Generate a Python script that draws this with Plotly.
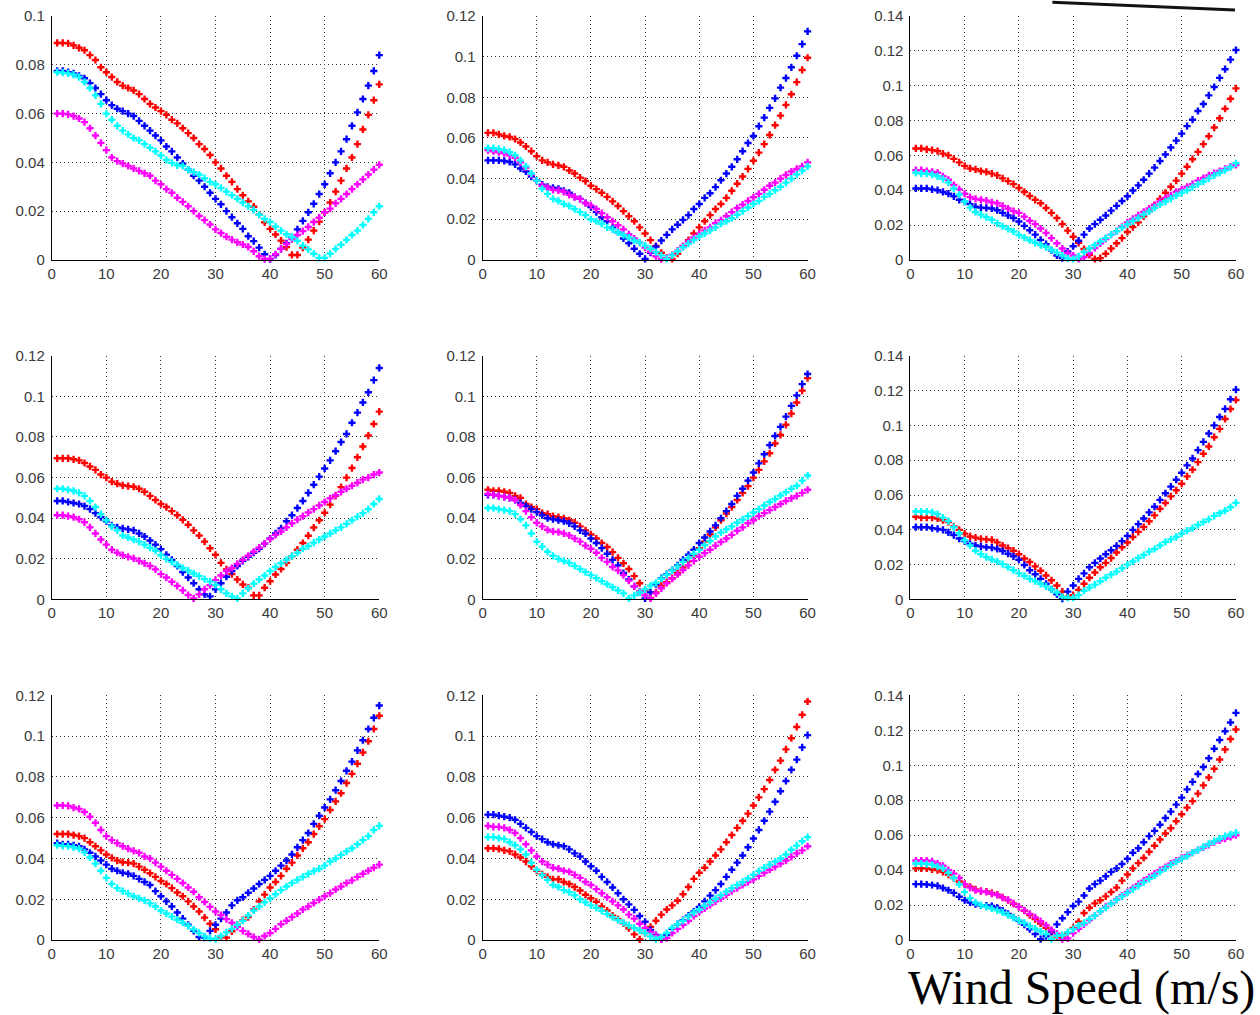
import plotly.graph_objects as go

# Wind speed samples (m/s) shared by every panel
wind = list(range(1, 61))

# Y-axis limits and tick labels per panel (row-major, 3x3)
y_max = [0.1, 0.12, 0.14, 0.12, 0.12, 0.14, 0.12, 0.12, 0.14]
x_ticks = [0, 10, 20, 30, 40, 50, 60]
x_tick_text = ["0", "10", "20", "30", "40", "50", "60"]
y_ticks_01 = [0, 0.02, 0.04, 0.06, 0.08, 0.1]
y_text_01 = ["0", "0.02", "0.04", "0.06", "0.08", "0.1"]
y_ticks_012 = [0, 0.02, 0.04, 0.06, 0.08, 0.1, 0.12]
y_text_012 = ["0", "0.02", "0.04", "0.06", "0.08", "0.1", "0.12"]
y_ticks_014 = [0, 0.02, 0.04, 0.06, 0.08, 0.1, 0.12, 0.14]
y_text_014 = ["0", "0.02", "0.04", "0.06", "0.08", "0.1", "0.12", "0.14"]

# ---- Panel 1 ----
p1_red = [0.089, 0.089, 0.0888, 0.088, 0.087, 0.086, 0.084, 0.082, 0.079, 0.077,
          0.075, 0.073, 0.0715, 0.0705, 0.0695, 0.068, 0.066, 0.064, 0.0625, 0.061,
          0.0595, 0.0575, 0.056, 0.054, 0.052, 0.050, 0.0475, 0.0455, 0.043, 0.040,
          0.0375, 0.0345, 0.032, 0.029, 0.0265, 0.024, 0.0218, 0.0185, 0.0154, 0.0127,
          0.0104, 0.0079, 0.0052, 0.002, 0.002, 0.005, 0.0083, 0.012, 0.0157, 0.0195,
          0.0235, 0.028, 0.0325, 0.0375, 0.042, 0.0475, 0.0535, 0.0595, 0.0655, 0.072]
p1_blue = [0.0775, 0.0775, 0.077, 0.0765, 0.0755, 0.0745, 0.0725, 0.0705, 0.068, 0.0655,
           0.0635, 0.062, 0.061, 0.060, 0.059, 0.057, 0.055, 0.053, 0.051, 0.049,
           0.0465, 0.0445, 0.042, 0.0395, 0.037, 0.0345, 0.0325, 0.030, 0.0275, 0.025,
           0.0228, 0.020, 0.0175, 0.015, 0.0127, 0.0097, 0.0077, 0.005, 0.0023, 0.0003,
           0.002, 0.0045, 0.0068, 0.0093, 0.0125, 0.016, 0.0195, 0.023, 0.027, 0.031,
           0.0355, 0.040, 0.0445, 0.0495, 0.055, 0.0605, 0.066, 0.0715, 0.0775, 0.084]
p1_magenta = [0.060, 0.060, 0.0597, 0.059, 0.058, 0.0565, 0.054, 0.051, 0.048, 0.045,
              0.042, 0.0405, 0.0395, 0.0385, 0.0375, 0.0365, 0.0355, 0.0345, 0.0325, 0.031,
              0.029, 0.0275, 0.0255, 0.0238, 0.022, 0.020, 0.018, 0.0163, 0.0145, 0.0125,
              0.011, 0.0095, 0.0083, 0.0072, 0.0063, 0.0053, 0.0035, 0.0015, 0.0003, 0.0005,
              0.0023, 0.0045, 0.0065, 0.0085, 0.0102, 0.0118, 0.0135, 0.0155, 0.0173, 0.0195,
              0.021, 0.0232, 0.025, 0.027, 0.029, 0.031, 0.033, 0.035, 0.037, 0.039]
p1_cyan = [0.077, 0.0768, 0.0765, 0.076, 0.075, 0.073, 0.0705, 0.0675, 0.064, 0.060,
           0.0575, 0.055, 0.053, 0.0515, 0.050, 0.049, 0.0475, 0.046, 0.0445, 0.0428,
           0.041, 0.0398, 0.0388, 0.0385, 0.037, 0.036, 0.035, 0.0335, 0.032, 0.031,
           0.0295, 0.028, 0.0265, 0.025, 0.0235, 0.022, 0.0205, 0.0185, 0.0168, 0.0155,
           0.0137, 0.012, 0.0105, 0.0093, 0.0078, 0.0058, 0.0043, 0.0025, 0.0008, 0.0008,
           0.0025, 0.0045, 0.0062, 0.0082, 0.0102, 0.012, 0.0143, 0.0168, 0.0195, 0.022]

# ---- Panel 2 ----
p2_red = [0.0625, 0.0625, 0.0618, 0.061, 0.0605, 0.0595, 0.0578, 0.0558, 0.0535, 0.051,
          0.049, 0.048, 0.047, 0.0465, 0.0458, 0.044, 0.0425, 0.0405, 0.0388, 0.0365,
          0.0348, 0.033, 0.031, 0.0288, 0.0265, 0.024, 0.0215, 0.019, 0.016, 0.013,
          0.0097, 0.0068, 0.0035, 0.0008, 0.0005, 0.003, 0.0065, 0.0097, 0.013, 0.016,
          0.019, 0.022, 0.025, 0.0275, 0.0305, 0.034, 0.0375, 0.041, 0.0448, 0.0488,
          0.0528, 0.057, 0.0615, 0.0663, 0.071, 0.0763, 0.0815, 0.0875, 0.0935, 0.0995]
p2_blue = [0.049, 0.049, 0.049, 0.0487, 0.0482, 0.047, 0.045, 0.0435, 0.041, 0.039,
           0.037, 0.036, 0.0355, 0.035, 0.034, 0.033, 0.031, 0.030, 0.028, 0.026,
           0.0235, 0.021, 0.019, 0.016, 0.0135, 0.0105, 0.0082, 0.0055, 0.003, 0.0005,
           0.0035, 0.0065, 0.0095, 0.0123, 0.015, 0.0173, 0.0197, 0.022, 0.025, 0.0275,
           0.0305, 0.0328, 0.0358, 0.0392, 0.0425, 0.0458, 0.0495, 0.0535, 0.0575, 0.061,
           0.0658, 0.070, 0.0748, 0.0795, 0.0848, 0.0895, 0.0948, 0.1005, 0.1062, 0.1125]
p2_magenta = [0.054, 0.0535, 0.053, 0.0525, 0.0515, 0.0503, 0.048, 0.0455, 0.042, 0.039,
              0.0365, 0.0355, 0.0345, 0.0342, 0.0335, 0.032, 0.031, 0.030, 0.028, 0.0268,
              0.025, 0.023, 0.021, 0.019, 0.017, 0.015, 0.0125, 0.0105, 0.0085, 0.006,
              0.004, 0.0018, 0.0003, 0.0008, 0.0025, 0.0045, 0.0068, 0.009, 0.011, 0.0128,
              0.0145, 0.016, 0.018, 0.0195, 0.0215, 0.0235, 0.0255, 0.0272, 0.029, 0.0308,
              0.0325, 0.0345, 0.0365, 0.038, 0.040, 0.0418, 0.0435, 0.0448, 0.046, 0.048]
p2_cyan = [0.055, 0.055, 0.0545, 0.054, 0.053, 0.0515, 0.049, 0.046, 0.0425, 0.039,
           0.035, 0.0325, 0.030, 0.029, 0.0275, 0.0265, 0.025, 0.0235, 0.022, 0.020,
           0.019, 0.0178, 0.016, 0.015, 0.0135, 0.0122, 0.011, 0.0095, 0.0085, 0.007,
           0.0055, 0.0038, 0.0022, 0.0005, 0.0022, 0.0042, 0.0062, 0.008, 0.0098, 0.0115,
           0.013, 0.0145, 0.016, 0.0178, 0.019, 0.0205, 0.0222, 0.024, 0.0258, 0.0275,
           0.029, 0.031, 0.0325, 0.0343, 0.036, 0.038, 0.040, 0.042, 0.044, 0.046]

# ---- Panel 3 ----
p3_red = [0.064, 0.064, 0.0635, 0.063, 0.0625, 0.061, 0.060, 0.058, 0.056, 0.054,
          0.0525, 0.052, 0.051, 0.0505, 0.0495, 0.0485, 0.0468, 0.0452, 0.0435, 0.0413,
          0.039, 0.0367, 0.0345, 0.0325, 0.0298, 0.027, 0.024, 0.0205, 0.0168, 0.0133,
          0.0098, 0.0062, 0.0028, 0.0005, 0.001, 0.0035, 0.0065, 0.0095, 0.0125, 0.016,
          0.0188, 0.0215, 0.025, 0.028, 0.0315, 0.035, 0.0385, 0.042, 0.0455, 0.0495,
          0.0535, 0.0578, 0.062, 0.0665, 0.071, 0.076, 0.0813, 0.0868, 0.0925, 0.0985]
p3_blue = [0.041, 0.041, 0.041, 0.0405, 0.040, 0.039, 0.038, 0.0365, 0.0345, 0.0335,
           0.032, 0.0305, 0.030, 0.0298, 0.0295, 0.0285, 0.027, 0.0255, 0.024, 0.022,
           0.0195, 0.017, 0.0145, 0.0115, 0.009, 0.0055, 0.0025, 0.001, 0.0048, 0.0078,
           0.011, 0.0145, 0.018, 0.0205, 0.023, 0.0255, 0.0283, 0.031, 0.0338, 0.0365,
           0.0398, 0.0428, 0.046, 0.0495, 0.053, 0.0568, 0.0605, 0.0645, 0.0685, 0.0725,
           0.0768, 0.0805, 0.0855, 0.0895, 0.0945, 0.0993, 0.1045, 0.1095, 0.115, 0.1205]
p3_magenta = [0.0515, 0.0515, 0.051, 0.0505, 0.050, 0.048, 0.046, 0.043, 0.0405, 0.038,
              0.036, 0.035, 0.0345, 0.034, 0.033, 0.0325, 0.031, 0.0295, 0.028, 0.027,
              0.0248, 0.0225, 0.0205, 0.018, 0.0155, 0.0125, 0.0095, 0.0065, 0.004, 0.0025,
              0.0005, 0.0015, 0.004, 0.0068, 0.0095, 0.012, 0.0145, 0.0165, 0.019, 0.0215,
              0.0235, 0.0255, 0.0275, 0.0295, 0.0315, 0.0335, 0.0355, 0.037, 0.039, 0.0405,
              0.042, 0.0435, 0.0455, 0.047, 0.0485, 0.0498, 0.051, 0.0522, 0.0535, 0.0545]
p3_cyan = [0.050, 0.0495, 0.0495, 0.049, 0.048, 0.0465, 0.0445, 0.041, 0.0375, 0.0335,
           0.030, 0.0275, 0.026, 0.0245, 0.023, 0.021, 0.0193, 0.0178, 0.0163, 0.0143,
           0.0128, 0.0113, 0.0098, 0.0085, 0.0073, 0.0058, 0.0043, 0.0025, 0.0008, 0.0005,
           0.002, 0.0045, 0.0065, 0.0085, 0.0105, 0.0125, 0.0145, 0.0165, 0.0185, 0.0205,
           0.0223, 0.024, 0.026, 0.0278, 0.0298, 0.0318, 0.0335, 0.0352, 0.037, 0.0385,
           0.040, 0.0418, 0.0435, 0.045, 0.0468, 0.0485, 0.050, 0.0515, 0.0532, 0.0555]

# ---- Panel 4 ----
p4_red = [0.0695, 0.0695, 0.0695, 0.069, 0.0685, 0.0672, 0.0655, 0.0638, 0.0615, 0.060,
          0.058, 0.057, 0.0562, 0.0558, 0.0555, 0.0545, 0.053, 0.051, 0.049, 0.047,
          0.0455, 0.0435, 0.0415, 0.0392, 0.0368, 0.034, 0.0315, 0.0285, 0.0252, 0.022,
          0.018, 0.0148, 0.0125, 0.0098, 0.0074, 0.0058, 0.002, 0.002, 0.0058, 0.009,
          0.0123, 0.015, 0.018, 0.0213, 0.0245, 0.0278, 0.0314, 0.0354, 0.039, 0.0427,
          0.0467, 0.051, 0.0553, 0.060, 0.0647, 0.070, 0.0753, 0.0807, 0.0864, 0.0925]
p4_blue = [0.0485, 0.0485, 0.048, 0.0475, 0.047, 0.046, 0.0445, 0.0425, 0.0405, 0.0385,
           0.0365, 0.0355, 0.035, 0.0345, 0.034, 0.0325, 0.031, 0.029, 0.027, 0.0248,
           0.022, 0.0195, 0.0165, 0.0135, 0.0108, 0.008, 0.005, 0.0025, 0.0015, 0.005,
           0.008, 0.0112, 0.014, 0.0165, 0.019, 0.021, 0.023, 0.025, 0.0275, 0.030,
           0.0325, 0.035, 0.0385, 0.0415, 0.045, 0.0485, 0.0525, 0.0565, 0.0605, 0.0645,
           0.0685, 0.073, 0.0775, 0.0815, 0.087, 0.092, 0.097, 0.102, 0.108, 0.114]
p4_magenta = [0.0415, 0.0415, 0.041, 0.0405, 0.0395, 0.038, 0.0355, 0.0325, 0.0295, 0.027,
              0.0245, 0.023, 0.0218, 0.021, 0.0202, 0.019, 0.0178, 0.0165, 0.0148, 0.0125,
              0.0108, 0.0087, 0.0067, 0.0045, 0.0022, 0.0005, 0.0025, 0.005, 0.007, 0.0095,
              0.0118, 0.014, 0.0155, 0.0175, 0.0195, 0.0215, 0.0235, 0.0255, 0.0275, 0.0298,
              0.0318, 0.0335, 0.0355, 0.0375, 0.0393, 0.041, 0.0428, 0.0445, 0.0463, 0.048,
              0.0498, 0.0513, 0.053, 0.0545, 0.056, 0.0575, 0.059, 0.060, 0.0615, 0.0625]
p4_cyan = [0.0545, 0.0545, 0.054, 0.0535, 0.0525, 0.051, 0.0485, 0.0455, 0.042, 0.039,
           0.036, 0.034, 0.0315, 0.0305, 0.0295, 0.0285, 0.027, 0.0255, 0.024, 0.0218,
           0.020, 0.0185, 0.017, 0.0155, 0.0142, 0.0128, 0.0115, 0.010, 0.0088, 0.0072,
           0.005, 0.003, 0.0015, 0.0005, 0.003, 0.0055, 0.0078, 0.0098, 0.0118, 0.014,
           0.016, 0.0178, 0.0195, 0.0213, 0.023, 0.025, 0.0263, 0.028, 0.0295, 0.031,
           0.0325, 0.034, 0.0355, 0.0372, 0.039, 0.0408, 0.0425, 0.0445, 0.047, 0.0495]

# ---- Panel 5 ----
p5_red = [0.054, 0.0535, 0.0535, 0.053, 0.0525, 0.051, 0.050, 0.047, 0.0455, 0.0445,
          0.0425, 0.042, 0.041, 0.0405, 0.040, 0.039, 0.0378, 0.036, 0.034, 0.032,
          0.030, 0.0278, 0.0258, 0.0233, 0.0205, 0.0178, 0.015, 0.0115, 0.008, 0.0045,
          0.0008, 0.0035, 0.0068, 0.0085, 0.0105, 0.013, 0.0158, 0.0188, 0.0218, 0.0253,
          0.0285, 0.032, 0.0355, 0.039, 0.0423, 0.0455, 0.049, 0.0525, 0.0558, 0.060,
          0.0638, 0.068, 0.072, 0.0768, 0.081, 0.086, 0.0915, 0.097, 0.1028, 0.109]
p5_blue = [0.0515, 0.0515, 0.051, 0.0505, 0.050, 0.049, 0.0475, 0.046, 0.0445, 0.043,
           0.0415, 0.040, 0.0395, 0.039, 0.0385, 0.0375, 0.036, 0.034, 0.0325, 0.030,
           0.0278, 0.0253, 0.0225, 0.0195, 0.0168, 0.013, 0.0098, 0.0065, 0.0035, 0.0005,
           0.0035, 0.0075, 0.0105, 0.0125, 0.0145, 0.0168, 0.0195, 0.022, 0.0245, 0.0278,
           0.0305, 0.0335, 0.0365, 0.040, 0.0435, 0.047, 0.051, 0.0545, 0.0585, 0.0625,
           0.067, 0.0715, 0.076, 0.0805, 0.085, 0.090, 0.0953, 0.1005, 0.106, 0.111]
p5_magenta = [0.052, 0.0515, 0.051, 0.0505, 0.050, 0.049, 0.0465, 0.0435, 0.0405, 0.0378,
              0.036, 0.0343, 0.0335, 0.0332, 0.0325, 0.0315, 0.030, 0.0285, 0.0265, 0.025,
              0.023, 0.0205, 0.0185, 0.016, 0.0143, 0.012, 0.0093, 0.0065, 0.004, 0.002,
              0.0005, 0.003, 0.0055, 0.008, 0.0102, 0.0123, 0.0145, 0.0168, 0.019, 0.021,
              0.0228, 0.0245, 0.0265, 0.0283, 0.030, 0.0318, 0.0338, 0.0355, 0.0375, 0.039,
              0.041, 0.0425, 0.044, 0.0455, 0.047, 0.0485, 0.0498, 0.051, 0.0525, 0.054]
p5_cyan = [0.045, 0.045, 0.0445, 0.044, 0.0435, 0.042, 0.0395, 0.0365, 0.0325, 0.0285,
           0.026, 0.0235, 0.0215, 0.020, 0.019, 0.018, 0.0165, 0.015, 0.0135, 0.012,
           0.0105, 0.009, 0.0075, 0.006, 0.0045, 0.003, 0.0005, 0.002, 0.0035, 0.005,
           0.0068, 0.0082, 0.0102, 0.0122, 0.0143, 0.0163, 0.0185, 0.0205, 0.0225, 0.0245,
           0.0268, 0.0288, 0.031, 0.033, 0.0345, 0.036, 0.0378, 0.0393, 0.041, 0.0428,
           0.0445, 0.0463, 0.048, 0.0495, 0.0512, 0.0528, 0.0545, 0.056, 0.0585, 0.061]

# ---- Panel 6 (three series) ----
p6_red = [0.0475, 0.047, 0.047, 0.047, 0.0465, 0.0455, 0.0445, 0.042, 0.040, 0.0378,
          0.0362, 0.0355, 0.0348, 0.0345, 0.0342, 0.0328, 0.031, 0.0295, 0.028, 0.026,
          0.0235, 0.0215, 0.019, 0.0165, 0.0138, 0.011, 0.008, 0.0045, 0.0015, 0.0025,
          0.0055, 0.009, 0.0125, 0.0155, 0.0185, 0.021, 0.0238, 0.027, 0.030, 0.0327,
          0.0359, 0.0388, 0.0416, 0.0449, 0.0483, 0.0521, 0.0554, 0.0592, 0.0627, 0.0665,
          0.0707, 0.0745, 0.0789, 0.0837, 0.0879, 0.0932, 0.098, 0.1037, 0.1094, 0.1146]
p6_blue = [0.0415, 0.0415, 0.0415, 0.041, 0.0405, 0.040, 0.0385, 0.037, 0.035, 0.0335,
           0.032, 0.031, 0.0305, 0.030, 0.0298, 0.029, 0.0278, 0.0263, 0.0248, 0.0228,
           0.0198, 0.0168, 0.0145, 0.0118, 0.009, 0.0058, 0.003, 0.0005, 0.0045, 0.008,
           0.0118, 0.015, 0.0185, 0.021, 0.0235, 0.026, 0.0283, 0.0308, 0.0335, 0.0365,
           0.040, 0.0433, 0.0465, 0.050, 0.0533, 0.0572, 0.061, 0.0648, 0.0688, 0.0728,
           0.077, 0.081, 0.0858, 0.0905, 0.0953, 0.100, 0.1048, 0.1095, 0.115, 0.1205]
p6_cyan = [0.0505, 0.0505, 0.0505, 0.050, 0.049, 0.047, 0.045, 0.0415, 0.038, 0.034,
           0.031, 0.028, 0.026, 0.0243, 0.023, 0.0218, 0.0203, 0.0185, 0.0168, 0.015,
           0.0135, 0.0118, 0.0105, 0.009, 0.0075, 0.0058, 0.004, 0.0015, 0.001, 0.001,
           0.0025, 0.005, 0.0068, 0.0085, 0.0105, 0.0125, 0.0143, 0.016, 0.018, 0.020,
           0.0218, 0.0238, 0.0255, 0.0275, 0.029, 0.031, 0.033, 0.0345, 0.036, 0.0378,
           0.0395, 0.041, 0.0428, 0.0445, 0.046, 0.048, 0.0495, 0.051, 0.053, 0.0555]

# ---- Panel 7 ----
p7_red = [0.052, 0.052, 0.052, 0.0515, 0.051, 0.050, 0.048, 0.046, 0.044, 0.042,
          0.0403, 0.039, 0.0382, 0.038, 0.0375, 0.036, 0.0345, 0.0328, 0.031, 0.029,
          0.0275, 0.0255, 0.0233, 0.0215, 0.019, 0.0165, 0.014, 0.011, 0.008, 0.0053,
          0.0015, 0.0012, 0.0043, 0.0075, 0.0098, 0.0113, 0.015, 0.019, 0.0223, 0.0258,
          0.0285, 0.0315, 0.035, 0.038, 0.0415, 0.045, 0.048, 0.052, 0.0558, 0.0593,
          0.0638, 0.068, 0.072, 0.077, 0.0815, 0.0865, 0.092, 0.0975, 0.1035, 0.110]
p7_blue = [0.0475, 0.047, 0.047, 0.0465, 0.046, 0.0445, 0.0428, 0.041, 0.039, 0.037,
           0.035, 0.034, 0.033, 0.0325, 0.0315, 0.030, 0.0285, 0.027, 0.024, 0.0215,
           0.019, 0.0165, 0.0135, 0.0105, 0.0075, 0.0045, 0.0015, 0.0012, 0.0045, 0.0075,
           0.0105, 0.0135, 0.017, 0.0195, 0.021, 0.0232, 0.0253, 0.0275, 0.0295, 0.0315,
           0.034, 0.0365, 0.039, 0.042, 0.0455, 0.049, 0.0525, 0.057, 0.061, 0.065,
           0.069, 0.0735, 0.078, 0.083, 0.0875, 0.093, 0.098, 0.1035, 0.109, 0.115]
p7_magenta = [0.066, 0.066, 0.0658, 0.065, 0.0643, 0.0628, 0.0605, 0.0575, 0.054, 0.051,
              0.049, 0.0475, 0.046, 0.0448, 0.0437, 0.0428, 0.041, 0.040, 0.038, 0.036,
              0.034, 0.032, 0.030, 0.028, 0.0258, 0.0237, 0.021, 0.0187, 0.0163, 0.014,
              0.0123, 0.0103, 0.0085, 0.0065, 0.0045, 0.003, 0.0015, 0.0003, 0.002, 0.0035,
              0.0055, 0.0078, 0.0095, 0.0113, 0.013, 0.015, 0.0165, 0.0182, 0.0198, 0.0215,
              0.023, 0.0248, 0.0263, 0.028, 0.0293, 0.031, 0.0325, 0.034, 0.0355, 0.037]
p7_cyan = [0.0465, 0.0462, 0.046, 0.0455, 0.0448, 0.043, 0.0405, 0.0375, 0.034, 0.0305,
           0.0275, 0.0255, 0.024, 0.0228, 0.0215, 0.0205, 0.0195, 0.018, 0.0165, 0.0145,
           0.013, 0.0115, 0.010, 0.0085, 0.007, 0.0052, 0.0035, 0.0018, 0.0008, 0.0005,
           0.002, 0.0038, 0.0055, 0.0075, 0.0095, 0.012, 0.0145, 0.0165, 0.0185, 0.0205,
           0.0225, 0.0245, 0.0263, 0.028, 0.0295, 0.031, 0.0325, 0.0338, 0.035, 0.0365,
           0.0385, 0.040, 0.0418, 0.0435, 0.045, 0.047, 0.049, 0.051, 0.054, 0.056]

# ---- Panel 8 ----
p8_red = [0.045, 0.045, 0.0447, 0.044, 0.0435, 0.042, 0.0405, 0.0385, 0.0362, 0.034,
          0.0322, 0.031, 0.0298, 0.0298, 0.0285, 0.0275, 0.026, 0.0243, 0.0222, 0.0205,
          0.0188, 0.0165, 0.0145, 0.012, 0.0103, 0.0082, 0.0058, 0.0028, 0.0003, 0.0035,
          0.0065, 0.0095, 0.0125, 0.015, 0.017, 0.0193, 0.0225, 0.026, 0.030, 0.033,
          0.0355, 0.0385, 0.0415, 0.0445, 0.048, 0.0515, 0.055, 0.0585, 0.062, 0.066,
          0.070, 0.074, 0.0785, 0.0835, 0.088, 0.0935, 0.099, 0.1045, 0.1105, 0.117]
p8_blue = [0.0615, 0.0615, 0.061, 0.0605, 0.060, 0.059, 0.057, 0.055, 0.053, 0.051,
           0.0495, 0.048, 0.047, 0.0465, 0.046, 0.0445, 0.0425, 0.041, 0.0385, 0.0362,
           0.034, 0.031, 0.0285, 0.0258, 0.023, 0.020, 0.0175, 0.0148, 0.0118, 0.009,
           0.005, 0.0025, 0.0005, 0.0025, 0.0055, 0.0078, 0.0098, 0.012, 0.014, 0.0163,
           0.019, 0.0218, 0.0245, 0.0275, 0.031, 0.0345, 0.038, 0.0415, 0.0455, 0.0498,
           0.054, 0.0585, 0.063, 0.0678, 0.073, 0.078, 0.0835, 0.0885, 0.0945, 0.1005]
p8_magenta = [0.056, 0.0555, 0.0555, 0.055, 0.054, 0.0525, 0.050, 0.047, 0.044, 0.041,
              0.0385, 0.037, 0.0355, 0.035, 0.034, 0.0335, 0.032, 0.0305, 0.0285, 0.027,
              0.025, 0.023, 0.021, 0.019, 0.017, 0.015, 0.0125, 0.0105, 0.008, 0.006,
              0.004, 0.0022, 0.0003, 0.001, 0.0035, 0.0055, 0.0075, 0.0095, 0.0118, 0.0138,
              0.0155, 0.0172, 0.019, 0.0205, 0.0222, 0.024, 0.0255, 0.027, 0.0285, 0.0298,
              0.0315, 0.033, 0.0345, 0.036, 0.0375, 0.039, 0.0408, 0.0425, 0.044, 0.046]
p8_cyan = [0.0505, 0.0505, 0.050, 0.0495, 0.048, 0.0465, 0.0445, 0.042, 0.038, 0.0345,
           0.0318, 0.0295, 0.027, 0.026, 0.0245, 0.0235, 0.022, 0.020, 0.0185, 0.017,
           0.0158, 0.0143, 0.0128, 0.0112, 0.0098, 0.0085, 0.0072, 0.006, 0.0048, 0.0035,
           0.0018, 0.0005, 0.0015, 0.0035, 0.006, 0.0078, 0.0095, 0.0115, 0.0135, 0.015,
           0.0168, 0.0185, 0.0203, 0.022, 0.0238, 0.0255, 0.027, 0.0285, 0.0302, 0.032,
           0.0338, 0.0355, 0.037, 0.0385, 0.040, 0.042, 0.0443, 0.0463, 0.0485, 0.0505]

# ---- Panel 9 ----
p9_red = [0.041, 0.041, 0.041, 0.0405, 0.040, 0.039, 0.0375, 0.0355, 0.0335, 0.032,
          0.0305, 0.029, 0.028, 0.0278, 0.027, 0.026, 0.0245, 0.0228, 0.0208, 0.019,
          0.0168, 0.0143, 0.012, 0.0095, 0.007, 0.0045, 0.002, 0.0015, 0.004, 0.007,
          0.0105, 0.0155, 0.0185, 0.021, 0.0228, 0.025, 0.0275, 0.030, 0.034, 0.0375,
          0.041, 0.044, 0.047, 0.0505, 0.054, 0.0575, 0.061, 0.064, 0.068, 0.072,
          0.0758, 0.0795, 0.0838, 0.0885, 0.093, 0.098, 0.1033, 0.109, 0.115, 0.1205]
p9_blue = [0.032, 0.032, 0.0318, 0.0315, 0.031, 0.0298, 0.0285, 0.027, 0.0248, 0.0228,
           0.0215, 0.0205, 0.0198, 0.0198, 0.0195, 0.0185, 0.0168, 0.015, 0.013, 0.011,
           0.0088, 0.0062, 0.0035, 0.0005, 0.0022, 0.005, 0.009, 0.0125, 0.016, 0.0195,
           0.022, 0.0255, 0.0295, 0.032, 0.034, 0.0365, 0.039, 0.041, 0.0435, 0.0465,
           0.050, 0.0525, 0.056, 0.0595, 0.0625, 0.066, 0.0698, 0.0735, 0.0775, 0.0815,
           0.0862, 0.0905, 0.095, 0.099, 0.104, 0.1095, 0.1145, 0.1195, 0.1245, 0.130]
p9_magenta = [0.0455, 0.0455, 0.0455, 0.045, 0.0438, 0.0425, 0.040, 0.038, 0.0355, 0.032,
              0.030, 0.0285, 0.028, 0.0275, 0.0265, 0.0258, 0.0243, 0.023, 0.021, 0.019,
              0.017, 0.015, 0.013, 0.0108, 0.0085, 0.0058, 0.0035, 0.0005, 0.001, 0.004,
              0.0065, 0.009, 0.0115, 0.014, 0.0165, 0.019, 0.021, 0.0232, 0.0255, 0.0275,
              0.0298, 0.032, 0.034, 0.036, 0.038, 0.040, 0.0418, 0.0438, 0.0455, 0.047,
              0.0485, 0.050, 0.0515, 0.053, 0.0545, 0.056, 0.057, 0.058, 0.059, 0.060]
p9_cyan = [0.0438, 0.0438, 0.0435, 0.043, 0.042, 0.041, 0.0385, 0.0355, 0.0318, 0.0275,
           0.024, 0.0215, 0.020, 0.019, 0.018, 0.017, 0.0158, 0.0143, 0.0128, 0.0113,
           0.0098, 0.008, 0.0065, 0.005, 0.0035, 0.0005, 0.0025, 0.0028, 0.0045, 0.0063,
           0.0083, 0.0098, 0.012, 0.014, 0.0165, 0.0185, 0.0208, 0.023, 0.025, 0.027,
           0.029, 0.031, 0.033, 0.035, 0.0368, 0.039, 0.041, 0.043, 0.0448, 0.0465,
           0.048, 0.050, 0.0515, 0.0533, 0.055, 0.0565, 0.058, 0.0595, 0.0605, 0.0615]

# Series drawn in each panel, in drawing order (colour, values)
panels = [
    [("red", p1_red), ("blue", p1_blue), ("magenta", p1_magenta), ("cyan", p1_cyan)],
    [("red", p2_red), ("blue", p2_blue), ("magenta", p2_magenta), ("cyan", p2_cyan)],
    [("red", p3_red), ("blue", p3_blue), ("magenta", p3_magenta), ("cyan", p3_cyan)],
    [("red", p4_red), ("blue", p4_blue), ("magenta", p4_magenta), ("cyan", p4_cyan)],
    [("red", p5_red), ("blue", p5_blue), ("magenta", p5_magenta), ("cyan", p5_cyan)],
    [("red", p6_red), ("blue", p6_blue), ("cyan", p6_cyan)],
    [("red", p7_red), ("blue", p7_blue), ("magenta", p7_magenta), ("cyan", p7_cyan)],
    [("red", p8_red), ("blue", p8_blue), ("magenta", p8_magenta), ("cyan", p8_cyan)],
    [("red", p9_red), ("blue", p9_blue), ("magenta", p9_magenta), ("cyan", p9_cyan)],
]
colours = {"red": "#ff0000", "blue": "#0000ff", "magenta": "#ff00ff", "cyan": "#00ffff"}
y_tick_sets = {0.1: (y_ticks_01, y_text_01), 0.12: (y_ticks_012, y_text_012),
               0.14: (y_ticks_014, y_text_014)}

# Canvas size and the page placement of the plotting areas
W, H = 1268, 1023
OFF = 8                      # page body margin
SX, SY = 1260 / 1276, 1015 / 1031
col_px = [(55.5, 382), (485, 809), (911.5, 1236)]
row_px = [(15, 259), (355, 599), (695, 940)]


def px_x(p):
    return (p / SX - OFF) / W


def px_y(p):
    return 1 - (p / SY - OFF) / H


fig = go.Figure()
layout = dict(
    width=W, height=H, margin=dict(l=0, r=0, t=0, b=0),
    paper_bgcolor="white", plot_bgcolor="white", showlegend=False,
    font=dict(family="Liberation Sans, Arial, sans-serif", size=15, color="#3a3a3a"),
)

for i, series in enumerate(panels):
    r, c = divmod(i, 3)
    k = i + 1
    xa = "x" if k == 1 else f"x{k}"
    ya = "y" if k == 1 else f"y{k}"
    for name, vals in series:
        fig.add_trace(go.Scatter(
            x=wind, y=vals, mode="markers", xaxis=xa, yaxis=ya,
            cliponaxis=False, hoverinfo="skip",
            marker=dict(symbol="cross", size=6, color=colours[name], line=dict(width=0)),
        ))
    x0, x1 = col_px[c]
    y0, y1 = row_px[r]
    yt, ytxt = y_tick_sets[y_max[i]]
    grid = dict(showgrid=True, gridcolor="#333333", gridwidth=1, griddash="1px,3px",
                zeroline=False, showline=True, linecolor="black", linewidth=1,
                mirror=False, ticks="", tickfont=dict(size=15, color="#3a3a3a"))
    layout["xaxis" if k == 1 else f"xaxis{k}"] = dict(
        domain=[px_x(x0), px_x(x1)], range=[0, 60], anchor=ya,
        tickvals=x_ticks, ticktext=x_tick_text, ticklabelstandoff=0, **grid)
    layout["yaxis" if k == 1 else f"yaxis{k}"] = dict(
        domain=[px_y(y1), px_y(y0)], range=[0, y_max[i]], anchor=xa,
        tickvals=yt, ticktext=ytxt, ticklabelstandoff=3, **grid)

fig.update_layout(**layout)

fig.add_annotation(
    text="Wind Speed (m/s)", xref="paper", yref="paper",
    x=px_x(1257), y=px_y(988), xanchor="right", yanchor="middle",
    showarrow=False, font=dict(family="Liberation Serif, Times New Roman, serif",
                               size=48, color="black"),
)
# dark stroke along the top-right edge
fig.add_shape(type="line", xref="paper", yref="paper",
              x0=px_x(1053), y0=px_y(1), x1=px_x(1235), y1=px_y(9),
              line=dict(color="#111111", width=3))

fig.write_html("out.html")
